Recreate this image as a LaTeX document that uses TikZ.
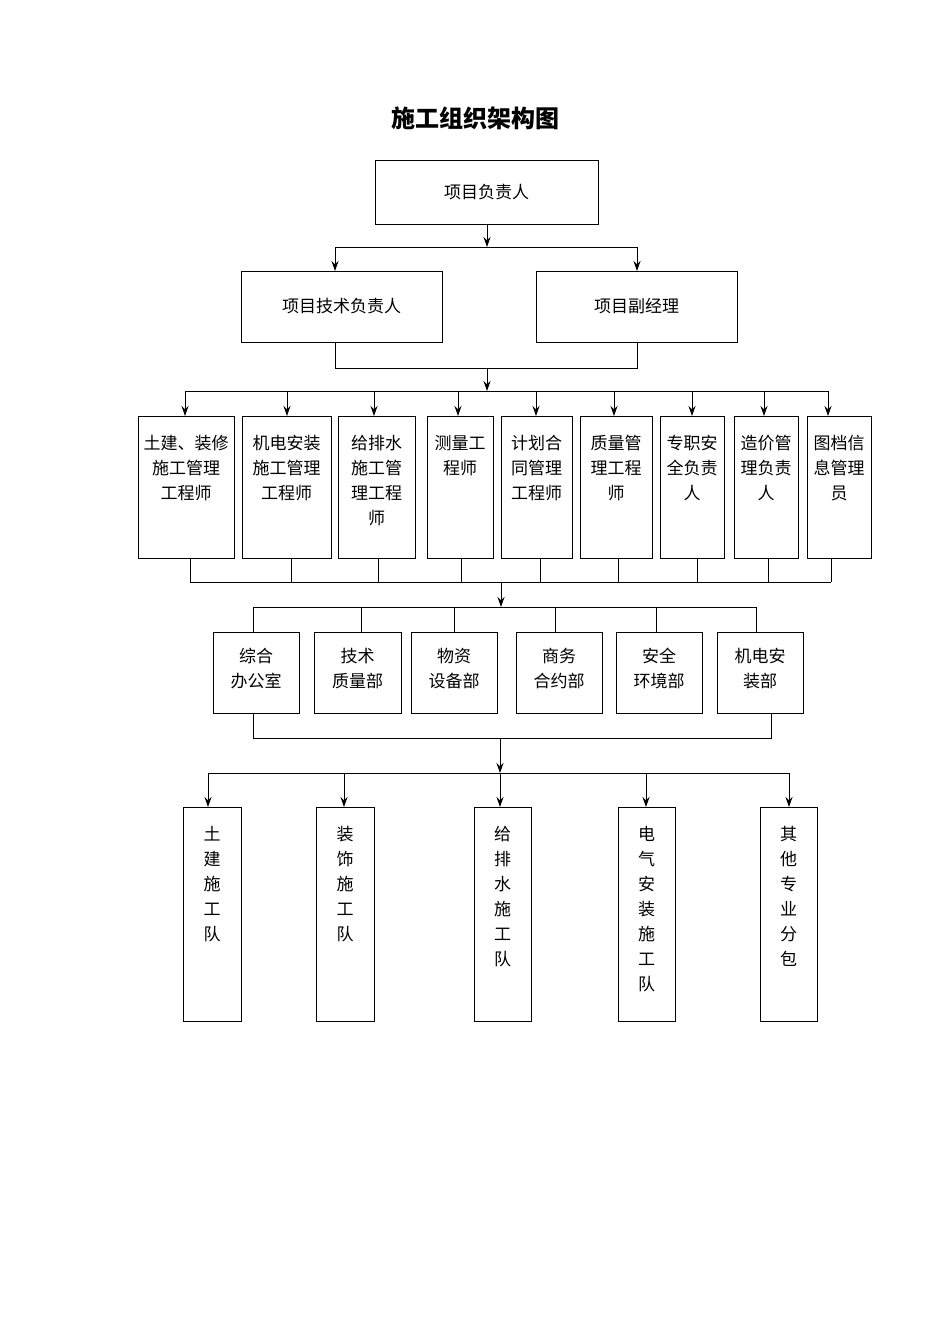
\documentclass[tikz,border=0pt]{standalone}
\usepackage{fontspec}
\setmainfont{Noto Sans CJK SC}
\usetikzlibrary{arrows.meta}
\begin{document}
\begin{tikzpicture}[x=1pt,y=-1pt,line width=1pt,
  ar/.style={-{Stealth[length=10pt,width=7pt]}},
  tx/.style={anchor=north,align=center,inner sep=0pt,font=\fontsize{17}{25}\selectfont}]
\useasboundingbox (0,0) rectangle (950,1344);
\newcommand\bx[6]{\node[draw,minimum width=#4-#2,minimum height=#5-#3,inner sep=0pt] (#1) at ({(#2+#4)/2},{(#3+#5)/2}) {};}
\node[font=\fontsize{24}{28}\selectfont\bfseries] (title) at (475,118) {施工组织架构图};
% top
\bx{top}{375}{160}{598}{224}{}
\node[tx,anchor=center] (ttop) at (top) {项目负责人};
\bx{a1}{241}{271}{442}{342}{}
\bx{a2}{536}{271}{737}{342}{}
\node[tx,anchor=center] (ta1) at (a1) {项目技术负责人};
\node[tx,anchor=center] (ta2) at (a2) {项目副经理};
\coordinate (s1) at (487,247);
\coordinate (l1) at (335,247);
\coordinate (r1) at (637,247);
\draw[ar] (487,224) -- (s1);
\draw (l1) -- (r1);
\draw[ar] (l1) -- (335,271);
\draw[ar] (r1) -- (637,271);
\coordinate (l2) at (335,368);
\coordinate (r2) at (637,368);
\draw (335,342) -- (l2) -- (r2) -- (637,342);
\coordinate (s2) at (487,391);
\draw[ar] (487,368) -- (s2);
\draw (185,391) -- (828,391);
% row 3
\foreach \n/\a/\b/\ax/\bx/\t in {
 b1/138/234/185/190/{土建、装修\\施工管理\\工程师},
 b2/242/331/287/291/{机电安装\\施工管理\\工程师},
 b3/338/415/374/378/{给排水\\施工管\\理工程\\师},
 b4/427/493/458/461/{测量工\\程师},
 b5/501/572/536/540/{计划合\\同管理\\工程师},
 b6/580/652/614/618/{质量管\\理工程\\师},
 b7/660/724/692/697/{专职安\\全负责\\人},
 b8/734/798/764/768/{造价管\\理负责\\人},
 b9/807/871/828/831/{图档信\\息管理\\员}}{
 \node[draw,minimum width=\b-\a,minimum height=142,inner sep=0pt] (\n) at ({(\a+\b)/2},487) {};
 \node[tx] (t\n) at ({(\a+\b)/2},435) {\t};
 \draw[ar] (\ax,391) -- (\ax,416);
 \draw (\bx,558) -- (\bx,582);
}
\draw (190,582) -- (831,582);
\draw[ar] (501,582) -- (501,607);
\draw (253,607) -- (756,607);
% row 4
\foreach \n/\a/\b/\tk/\t in {
 c1/213/299/253/{综合\\办公室},
 c2/314/401/361/{技术\\质量部},
 c3/411/497/454/{物资\\设备部},
 c4/516/602/555/{商务\\合约部},
 c5/616/702/656/{安全\\环境部},
 c6/717/803/756/{机电安\\装部}}{
 \node[draw,minimum width=\b-\a,minimum height=81,inner sep=0pt] (\n) at ({(\a+\b)/2},672.5) {};
 \node[tx] (t\n) at ({(\a+\b)/2},648) {\t};
 \draw (\tk,607) -- (\tk,632);
}
\draw (253,713) -- (253,738) -- (771,738) -- (771,713);
\draw[ar] (500,738) -- (500,773);
\draw (208,773) -- (789,773);
% row 5
\foreach \n/\a/\b/\ax/\t in {
 d1/183/241/208/{土\\建\\施\\工\\队},
 d2/316/374/344/{装\\饰\\施\\工\\队},
 d3/474/531/500/{给\\排\\水\\施\\工\\队},
 d4/618/675/646/{电\\气\\安\\装\\施\\工\\队},
 d5/760/817/789/{其\\他\\专\\业\\分\\包}}{
 \node[draw,minimum width=\b-\a,minimum height=214,inner sep=0pt] (\n) at ({(\a+\b)/2},914) {};
 \node[tx] (t\n) at ({(\a+\b)/2},826) {\t};
 \draw[ar] (\ax,773) -- (\ax,807);
}
\end{tikzpicture}
\end{document}
